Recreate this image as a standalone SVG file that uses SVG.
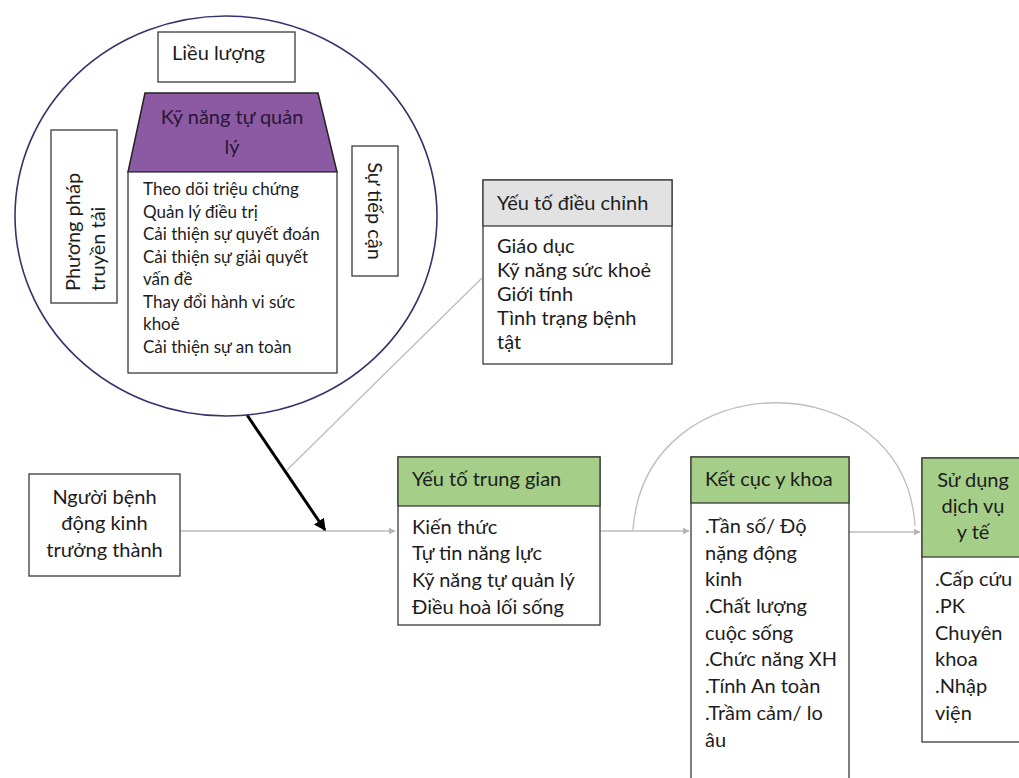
<svg xmlns="http://www.w3.org/2000/svg" width="1019" height="778" viewBox="0 0 1019 778">
<style>
text{font-family:Lato,"Liberation Sans",sans-serif;fill:#1c1c1c}
.box{fill:#fff;stroke:#3a3a3a;stroke-width:1.3}
.green{fill:#a5cf89;stroke:#3a3a3a;stroke-width:1.3}
.gray{fill:#e2e2e2;stroke:#3a3a3a;stroke-width:1.3}
.t20{font-size:20px}
.t17{font-size:17px}
.con{fill:none;stroke:#bdbdbd;stroke-width:1.3}
</style>
<defs>
<marker id="ag" viewBox="0 0 10 10" refX="9" refY="5" markerWidth="7" markerHeight="7" orient="auto" markerUnits="userSpaceOnUse">
<path d="M0,0 L10,5 L0,10 z" fill="#b5b5b5"/>
</marker>
<marker id="ab" viewBox="0 0 10 10" refX="9" refY="5" markerWidth="12" markerHeight="12" orient="auto" markerUnits="userSpaceOnUse">
<path d="M0,0 L10,5 L0,10 z" fill="#000"/>
</marker>
</defs>
<rect width="1019" height="778" fill="#fff"/>

<g id="connectors">
<line class="con" x1="287" y1="470" x2="482" y2="278"/>
<line class="con" x1="180" y1="531" x2="395" y2="531" marker-end="url(#ag)"/>
<line x1="247" y1="415" x2="325" y2="530" stroke="#000" stroke-width="3" marker-end="url(#ab)"/>
<line class="con" x1="600" y1="531" x2="689" y2="531" marker-end="url(#ag)" stroke="#d0d0d0"/>
<path class="con" d="M633,530 C645,361 905,361 915,526" stroke="#cfcfcf" stroke-width="1.6"/>
<line class="con" x1="849" y1="532" x2="920" y2="532" marker-end="url(#ag)" stroke="#d6d6d6"/>
</g>

<g id="circle">
<ellipse cx="226" cy="216" rx="211" ry="200" fill="#fff" stroke="#34346c" stroke-width="1.6"/>
</g>

<g id="lieu-luong">
<rect class="box" x="158" y="32" width="137" height="50"/>
<text class="t20" x="172" y="60">Liều lượng</text>
</g>

<g id="ky-nang">
<polygon points="145,93 318,93 337,172 128,172" fill="#8c5aa2" stroke="#222" stroke-width="1.5"/>
<text class="t20" x="232" y="124" text-anchor="middle" style="fill:#2a1636">Kỹ năng tự quản</text>
<text class="t20" x="232" y="154" text-anchor="middle" style="fill:#2a1636">lý</text>
<rect class="box" x="128" y="172" width="209" height="201"/>
<text class="t17" x="143" y="195">Theo dõi triệu chứng</text>
<text class="t17" x="143" y="217.5">Quản lý điều trị</text>
<text class="t17" x="143" y="240">Cải thiện sự quyết đoán</text>
<text class="t17" x="143" y="262.5">Cải thiện sự giải  quyết</text>
<text class="t17" x="143" y="285">vấn đề</text>
<text class="t17" x="143" y="307.5">Thay đổi hành vi sức</text>
<text class="t17" x="143" y="330">khoẻ</text>
<text class="t17" x="143" y="352.5">Cải thiện sự an toàn</text>
</g>

<g id="phuong-phap">
<rect class="box" x="51" y="130" width="66" height="173"/>
<text class="t20" transform="translate(80,291) rotate(-90)">Phương pháp</text>
<text class="t20" transform="translate(105,291) rotate(-90)">truyền tải</text>
</g>

<g id="su-tiep-can">
<rect class="box" x="352" y="146" width="46" height="130"/>
<text class="t20" text-anchor="middle" transform="translate(368,211) rotate(90)">Sự tiếp cận</text>
</g>

<g id="dieu-chinh">
<rect class="box" x="483" y="180" width="189" height="184"/>
<rect class="gray" x="483" y="180" width="189" height="46"/>
<text class="t20" x="497" y="210">Yếu tố điều chỉnh</text>
<text class="t20" x="497" y="253">Giáo dục</text>
<text class="t20" x="497" y="277">Kỹ năng sức khoẻ</text>
<text class="t20" x="497" y="301">Giới tính</text>
<text class="t20" x="497" y="325">Tình trạng bệnh</text>
<text class="t20" x="497" y="349">tật</text>
</g>

<g id="nguoi-benh">
<rect class="box" x="29" y="474" width="151" height="102"/>
<text class="t20" x="104.5" y="504" text-anchor="middle">Người bệnh</text>
<text class="t20" x="104.5" y="530" text-anchor="middle">động kinh</text>
<text class="t20" x="104.5" y="557" text-anchor="middle">trưởng thành</text>
</g>

<g id="trung-gian">
<rect class="box" x="398" y="457" width="202" height="168"/>
<rect class="green" x="398" y="457" width="202" height="49"/>
<text class="t20" x="412" y="486">Yếu tố trung gian</text>
<text class="t20" x="412" y="534">Kiến thức</text>
<text class="t20" x="412" y="560">Tự tin năng lực</text>
<text class="t20" x="412" y="587">Kỹ năng tự quản lý</text>
<text class="t20" x="412" y="614">Điều hoà lối sống</text>
</g>

<g id="ket-cuc">
<rect class="box" x="691" y="457" width="158" height="340"/>
<rect class="green" x="691" y="457" width="158" height="46"/>
<text class="t20" x="705" y="486">Kết cục y khoa</text>
<text class="t20" x="705" y="533">.Tần số/ Độ</text>
<text class="t20" x="705" y="560">nặng động</text>
<text class="t20" x="705" y="586">kinh</text>
<text class="t20" x="705" y="613">.Chất lượng</text>
<text class="t20" x="705" y="640">cuộc sống</text>
<text class="t20" x="705" y="666">.Chức năng XH</text>
<text class="t20" x="705" y="693">.Tính An toàn</text>
<text class="t20" x="705" y="720">.Trầm cảm/ lo</text>
<text class="t20" x="705" y="747">âu</text>
</g>

<g id="su-dung">
<rect class="box" x="922" y="458" width="110" height="284"/>
<rect class="green" x="922" y="458" width="110" height="99"/>
<text class="t20" x="973" y="487" text-anchor="middle">Sử dụng</text>
<text class="t20" x="973" y="513" text-anchor="middle">dịch vụ</text>
<text class="t20" x="973" y="539" text-anchor="middle">y tế</text>
<text class="t20" x="935" y="586">.Cấp cứu</text>
<text class="t20" x="935" y="613">.PK</text>
<text class="t20" x="935" y="640">Chuyên</text>
<text class="t20" x="935" y="666">khoa</text>
<text class="t20" x="935" y="693">.Nhập</text>
<text class="t20" x="935" y="720">viện</text>
</g>
</svg>
